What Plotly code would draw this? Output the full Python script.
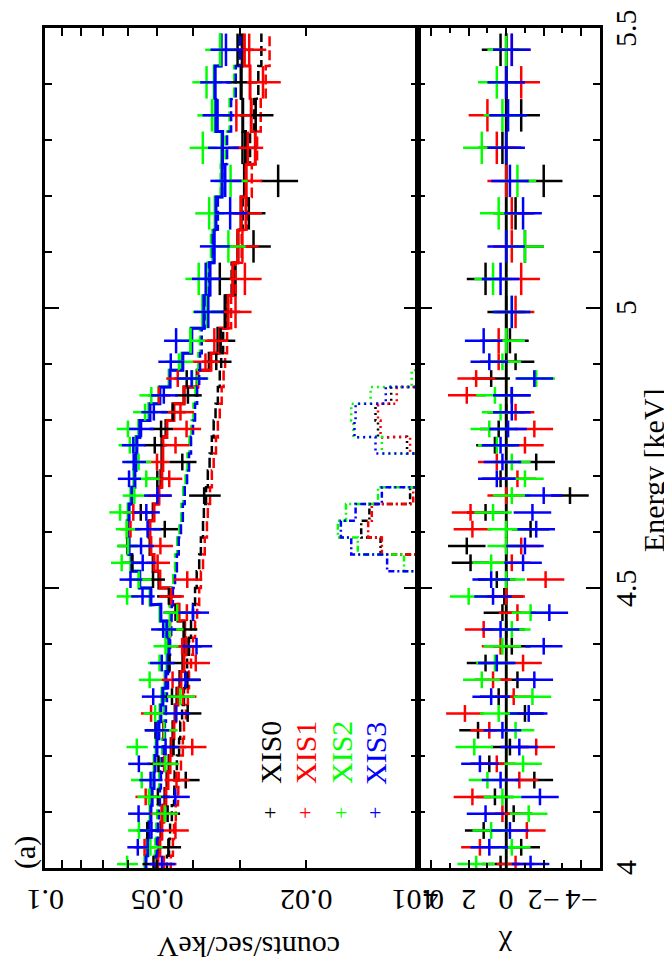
import math
import plotly.graph_objects as go

# energy bins (keV): centres and half widths
energy = [4.007, 4.037, 4.067, 4.097, 4.127, 4.157, 4.186, 4.216, 4.246, 4.276,
          4.306, 4.336, 4.366, 4.396, 4.426, 4.456, 4.485, 4.515, 4.545, 4.575,
          4.605, 4.635, 4.665, 4.695, 4.725, 4.755, 4.784, 4.814, 4.844, 4.874,
          4.904, 4.9415, 4.993, 5.052, 5.110, 5.169, 5.227, 5.286, 5.344, 5.403,
          5.461]
half_width = [0.015] * 31 + [0.0225] + [0.029] * 9

# total model (counts/sec/keV)
model_xis0 = [0.0501, 0.0495, 0.0489, 0.0483, 0.0477, 0.0471, 0.0465, 0.0459, 0.0454, 0.0448,
              0.0443, 0.0435, 0.0427, 0.0422, 0.0424, 0.0440, 0.0462, 0.0495, 0.0513, 0.0523,
              0.0526, 0.0513, 0.0498, 0.0489, 0.0486, 0.0486, 0.0474, 0.0454, 0.0424, 0.0391,
              0.0363, 0.0344, 0.0329, 0.0309, 0.0304, 0.0298, 0.0292, 0.0290, 0.0295, 0.0298,
              0.0296]
model_xis1 = [0.0498, 0.0492, 0.0486, 0.0480, 0.0474, 0.0468, 0.0462, 0.0457, 0.0451, 0.0446,
              0.0440, 0.0432, 0.0424, 0.0419, 0.0422, 0.0437, 0.0459, 0.0492, 0.0510, 0.0520,
              0.0523, 0.0510, 0.0495, 0.0486, 0.0483, 0.0483, 0.0471, 0.0451, 0.0424, 0.0389,
              0.0359, 0.0340, 0.0323, 0.0314, 0.0304, 0.0298, 0.0289, 0.0273, 0.0280, 0.0282,
              0.0292]
model_xis2 = [0.0540, 0.0533, 0.0529, 0.0523, 0.0519, 0.0513, 0.0510, 0.0504, 0.0498, 0.0492,
              0.0486, 0.0477, 0.0471, 0.0468, 0.0474, 0.0492, 0.0523, 0.0560, 0.0589, 0.0599,
              0.0603, 0.0599, 0.0589, 0.0578, 0.0574, 0.0571, 0.0561, 0.0527, 0.0495, 0.0465,
              0.0430, 0.0407, 0.0378, 0.0364, 0.0355, 0.0350, 0.0337, 0.0336, 0.0350, 0.0352,
              0.0339]
model_xis3 = [0.0536, 0.0530, 0.0526, 0.0520, 0.0516, 0.0510, 0.0507, 0.0501, 0.0495, 0.0489,
              0.0483, 0.0474, 0.0468, 0.0465, 0.0471, 0.0489, 0.0520, 0.0557, 0.0585, 0.0595,
              0.0599, 0.0595, 0.0585, 0.0574, 0.0570, 0.0567, 0.0557, 0.0523, 0.0492, 0.0462,
              0.0427, 0.0404, 0.0375, 0.0361, 0.0352, 0.0348, 0.0335, 0.0334, 0.0348, 0.0350,
              0.0337]

# continuum component (dashed)
cont_xis0 = [0.0471, 0.0465, 0.0462, 0.0457, 0.0451, 0.0449, 0.0443, 0.0437, 0.0434, 0.0429,
             0.0424, 0.0421, 0.0416, 0.0411, 0.0406, 0.0401, 0.0396, 0.0392, 0.0386, 0.0382,
             0.0377, 0.0375, 0.0370, 0.0366, 0.0362, 0.0357, 0.0353, 0.0349, 0.0344, 0.0340,
             0.0337, 0.0333, 0.0325, 0.0316, 0.0304, 0.0295, 0.0290, 0.0282, 0.0275, 0.0268,
             0.0263]
cont_xis1 = [0.0460, 0.0454, 0.0451, 0.0446, 0.0440, 0.0438, 0.0432, 0.0427, 0.0424, 0.0419,
             0.0414, 0.0411, 0.0406, 0.0401, 0.0396, 0.0391, 0.0386, 0.0382, 0.0377, 0.0373,
             0.0368, 0.0366, 0.0361, 0.0357, 0.0353, 0.0348, 0.0344, 0.0340, 0.0336, 0.0332,
             0.0329, 0.0325, 0.0317, 0.0308, 0.0297, 0.0288, 0.0279, 0.0270, 0.0264, 0.0256,
             0.0250]
cont_xis2 = [0.0509, 0.0506, 0.0503, 0.0500, 0.0497, 0.0494, 0.0491, 0.0485, 0.0482, 0.0479,
             0.0476, 0.0473, 0.0470, 0.0467, 0.0464, 0.0462, 0.0459, 0.0453, 0.0448, 0.0442,
             0.0436, 0.0431, 0.0426, 0.0420, 0.0415, 0.0410, 0.0405, 0.0400, 0.0395, 0.0390,
             0.0388, 0.0384, 0.0377, 0.0367, 0.0359, 0.0348, 0.0338, 0.0328, 0.0320, 0.0311,
             0.0303]
cont_xis3 = [0.0504, 0.0501, 0.0498, 0.0495, 0.0492, 0.0489, 0.0486, 0.0480, 0.0477, 0.0474,
             0.0471, 0.0468, 0.0465, 0.0462, 0.0459, 0.0457, 0.0454, 0.0448, 0.0443, 0.0438,
             0.0432, 0.0427, 0.0422, 0.0416, 0.0411, 0.0406, 0.0401, 0.0396, 0.0391, 0.0386,
             0.0384, 0.0380, 0.0373, 0.0363, 0.0355, 0.0344, 0.0335, 0.0325, 0.0317, 0.0308,
             0.0300]

# two line components: bins 16-23 (dash-dot) and bins 23-30 (dotted)
line1_first = 16
line1_xis0 = [0.006, 0.008, 0.0096, 0.0126, 0.0142, 0.0135, 0.0105, 0.007]
line1_xis1 = [0.006, 0.008, 0.0095, 0.0125, 0.0136, 0.0133, 0.0103, 0.007]
line1_xis2 = [0.006, 0.0085, 0.0109, 0.0145, 0.0164, 0.0156, 0.0128, 0.0075]
line1_xis3 = [0.006, 0.0088, 0.0121, 0.0151, 0.0161, 0.0147, 0.0125, 0.0075]
line2_first = 23
line2_xis0 = [0.006, 0.008, 0.0107, 0.0128, 0.0130, 0.0118, 0.0092, 0.007]
line2_xis1 = [0.006, 0.008, 0.0105, 0.0126, 0.0128, 0.0114, 0.0090, 0.007]
line2_xis2 = [0.006, 0.0085, 0.0125, 0.0149, 0.0151, 0.0134, 0.0104, 0.0075]
line2_xis3 = [0.006, 0.0088, 0.0130, 0.0148, 0.0147, 0.0122, 0.0098, 0.0075]

# fractional 1-sigma error of each bin
err_frac = [0.072, 0.071, 0.073, 0.072, 0.074, 0.073, 0.075, 0.074, 0.076, 0.075,
            0.077, 0.076, 0.078, 0.078, 0.079, 0.078, 0.076, 0.074, 0.072, 0.071,
            0.071, 0.072, 0.073, 0.074, 0.074, 0.075, 0.076, 0.078, 0.080, 0.083,
            0.086, 0.085, 0.090, 0.091, 0.092, 0.093, 0.094, 0.095, 0.096, 0.096,
            0.097]

# residuals (chi)
chi_xis0 = [0.3, -0.8, 1.2, -0.4, 0.6, -1.5, 0.9, -0.2, 1.5, -1.0, 0.4, -0.6, 1.1, -0.3,
            0.0, 0.2, 0.1, 0.5, 1.9, 2.1, -1.3, 1.1, -3.4, 0.3, -1.6, 0.6, 0.4, 0.0, -0.3,
            0.8, -0.5, -0.2, 0.0, 1.1, -1.0, -0.5, -2.0, 0.2, -0.8, 0.0, 0.3]
chi_xis1 = [-0.5, 1.4, -1.1, 0.2, 1.8, -0.7, 0.5, -1.6, 0.9, 2.2, -0.4, 0.7, -0.9, 0.3,
            1.2, -0.6, 0.0, -2.1, -0.3, -0.8, 1.8, 1.9, 0.0, -0.6, 0.5, -1.0, -1.5, -0.5,
            2.1, 1.6, 0.4, 0.4, -0.5, -0.8, -0.3, -0.3, 0.0, 0.5, 1.0, -0.8, -0.3]
chi_xis2 = [1.6, -0.3, 0.8, -1.2, 0.2, 1.0, -0.9, 1.7, -0.5, 0.4, -1.4, 1.3, 0.6, 0.2,
            -0.3, -1.3, 2.0, 0.0, 0.8, 0.0, 0.0, 0.7, -0.3, -1.0, -0.3, 0.5, 0.9, 0.3, 0.6,
            -1.6, 0.2, 0.0, -0.3, 0.7, -1.0, 0.4, -0.6, 1.3, 0.2, 0.5, 0.0]
chi_xis3 = [-1.3, 0.9, -0.2, 1.1, -1.8, 0.3, 1.4, -0.7, 0.2, -1.2, 0.8, -1.5, 0.5, -2.0,
            0.3, -2.3, 0.7, 0.8, -0.9, -1.0, -1.6, -1.4, -2.0, 0.5, 0.2, 0.3, -0.1, -0.3,
            -0.3, -1.5, 0.9, 1.2, -0.3, 0.3, 0.0, -0.9, -0.2, 0.0, -0.1, 0.0, -0.3]

# tick labels
rate_ticks = [0.1, 0.05, 0.02, 0.01]
rate_labels = ["0.1", "0.05", "0.02", "0.01"]
chi_ticks = [4, 2, 0, -2, -4]
chi_labels = ["4", "2", "0", "\u22122", "\u22124"]
energy_ticks = [4, 4.5, 5, 5.5]
energy_labels = ["4", "4.5", "5", "5.5"]

names = ["XIS0", "XIS1", "XIS2", "XIS3"]
colors = ["#000000", "#ff0000", "#00ff00", "#0000ff"]
models = [model_xis0, model_xis1, model_xis2, model_xis3]
conts = [cont_xis0, cont_xis1, cont_xis2, cont_xis3]
lines1 = [line1_xis0, line1_xis1, line1_xis2, line1_xis3]
lines2 = [line2_xis0, line2_xis1, line2_xis2, line2_xis3]
chis = [chi_xis0, chi_xis1, chi_xis2, chi_xis3]

W, H = 672, 963
TOP, BOT = 20, 860
SERIF = "Times New Roman"


def steps(vals, cen, hw):
    xs, ys = [], []
    for v, c, h in zip(vals, cen, hw):
        xs += [v, v]
        ys += [c - h, c + h]
    return xs, ys


def px(x):
    return x / W


def py(y):
    return (BOT - y) / (BOT - TOP)


fig = go.Figure()

for i in range(4):
    col = colors[i]
    # continuum
    sx, sy = steps(conts[i], energy, half_width)
    fig.add_trace(go.Scatter(x=sx, y=sy, mode="lines", xaxis="x", yaxis="y",
                             line=dict(color=col, width=2.5, dash="10px,4px")))
    # line components
    n1 = len(lines1[i])
    sx, sy = steps(lines1[i], energy[line1_first:line1_first + n1],
                   half_width[line1_first:line1_first + n1])
    fig.add_trace(go.Scatter(x=sx, y=sy, mode="lines", xaxis="x", yaxis="y",
                             line=dict(color=col, width=2.5, dash="6px,3px,2px,3px")))
    n2 = len(lines2[i])
    sx, sy = steps(lines2[i], energy[line2_first:line2_first + n2],
                   half_width[line2_first:line2_first + n2])
    fig.add_trace(go.Scatter(x=sx, y=sy, mode="lines", xaxis="x", yaxis="y",
                             line=dict(color=col, width=2.5, dash="2px,4px")))
    # total model
    sx, sy = steps(models[i], energy, half_width)
    fig.add_trace(go.Scatter(x=sx, y=sy, mode="lines", xaxis="x", yaxis="y",
                             line=dict(color=col, width=3)))

for i in range(4):
    col = colors[i]
    err = [m * f for m, f in zip(models[i], err_frac)]
    rate = [m + c * e for m, c, e in zip(models[i], chis[i], err)]
    fig.add_trace(go.Scatter(
        x=rate, y=energy, mode="markers", xaxis="x", yaxis="y",
        marker=dict(size=1, color=col, opacity=0),
        error_x=dict(type="data", array=err, width=0, thickness=2.5, color=col),
        error_y=dict(type="data", array=half_width, width=0, thickness=2.5, color=col)))

# residual panel
for i in [3, 1, 2, 0]:
    sx, sy = steps([0] * len(energy), energy, half_width)
    fig.add_trace(go.Scatter(x=sx, y=sy, mode="lines", xaxis="x2", yaxis="y2",
                             line=dict(color=colors[i], width=2.5)))
for i in range(4):
    col = colors[i]
    fig.add_trace(go.Scatter(
        x=chis[i], y=energy, mode="markers", xaxis="x2", yaxis="y2",
        marker=dict(size=1, color=col, opacity=0),
        error_x=dict(type="data", array=[1] * len(energy), width=0, thickness=2.5, color=col),
        error_y=dict(type="data", array=half_width, width=0, thickness=2.5, color=col)))

axis_common = dict(showline=True, linewidth=2.5, linecolor="black", mirror="ticks",
                   ticks="inside", tickcolor="black", tickwidth=2, showgrid=False,
                   zeroline=False, showticklabels=False)

fig.update_layout(
    width=W, height=H,
    margin=dict(l=0, r=0, t=TOP, b=H - BOT),
    paper_bgcolor="white", plot_bgcolor="white",
    showlegend=False,
    font=dict(family=SERIF, size=30, color="black"),
    xaxis=dict(type="log", range=[-1, -2], domain=[px(37), px(410)], anchor="y",
               tickvals=rate_ticks, ticklen=8,
               minor=dict(tickvals=[0.03, 0.04, 0.06, 0.07, 0.08, 0.09], ticks="inside",
                          ticklen=8, tickwidth=2, tickcolor="black"),
               **axis_common),
    xaxis2=dict(range=[4.7, -5.0], domain=[px(410), px(592)], anchor="y2",
                tickvals=chi_ticks, ticklen=8,
                minor=dict(dtick=1, ticks="inside", ticklen=5, tickwidth=2,
                           tickcolor="black"),
                **axis_common),
    yaxis=dict(range=[4, 5.5], domain=[0, 1], anchor="x", tickvals=energy_ticks,
               ticklen=14,
               minor=dict(dtick=0.1, ticks="inside", ticklen=7, tickwidth=2,
                          tickcolor="black"),
               **axis_common),
    yaxis2=dict(range=[4, 5.5], domain=[0, 1], anchor="x2", side="right", matches="y",
                tickvals=energy_ticks, ticklen=14,
                minor=dict(dtick=0.1, ticks="inside", ticklen=7, tickwidth=2,
                           tickcolor="black"),
                **axis_common),
)

ann = []
# tick labels, drawn rotated as in the landscape original
for v, t in zip(rate_ticks, rate_labels):
    ann.append(dict(text=t, x=math.log10(v), xref="x", y=py(893), yref="paper",
                    textangle=180))
for v, t in zip(chi_ticks, chi_labels):
    ann.append(dict(text=t, x=v, xref="x2", y=py(893), yref="paper", textangle=180))
for v, t in zip(energy_ticks, energy_labels):
    ann.append(dict(text=t, x=px(617), xref="paper", y=v, yref="y", textangle=-90))

ann += [
    dict(text="counts/sec/keV", x=px(240), y=py(940), textangle=180),
    dict(text="\u03c7", x=px(498), y=py(940), textangle=180),
    dict(text="Energy [keV]", x=px(645), y=py(462), textangle=-90),
    dict(text="(a)", x=px(17), y=py(845), textangle=-90),
]
leg_x = [262, 297, 333, 367]
for name, col, lx in zip(names, colors, leg_x):
    ann.append(dict(text=name, x=px(lx), y=py(745), textangle=-90,
                    font=dict(family=SERIF, size=30, color=col)))
    ann.append(dict(text="+", x=px(lx), y=py(804),
                    font=dict(family=SERIF, size=22, color=col)))
for a in ann:
    a.setdefault("xref", "paper")
    a.setdefault("yref", "paper")
    a.update(showarrow=False, xanchor="center", yanchor="middle")
    fig.add_annotation(**a)

fig.write_html("out.html")
